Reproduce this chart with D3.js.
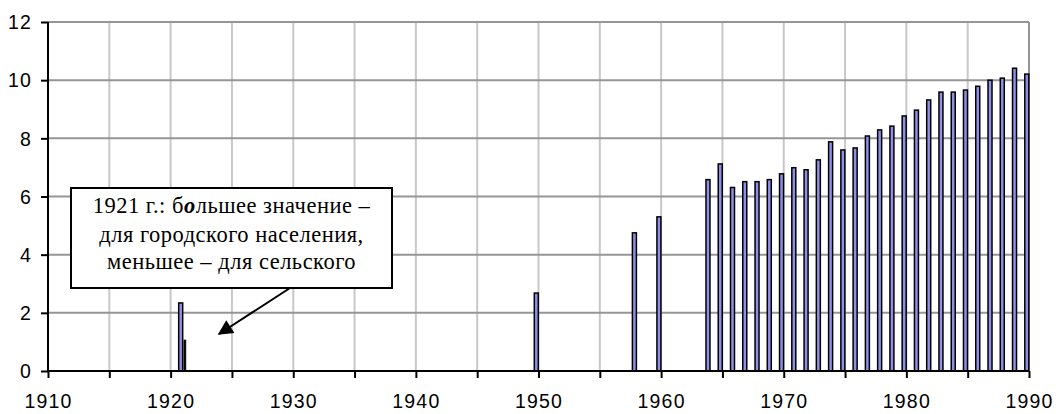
<!DOCTYPE html>
<html>
<head>
<meta charset="utf-8">
<script src="https://cdn.jsdelivr.net/npm/d3@7"></script>
<style>
  body { margin: 0; background: #fff; }
  svg { display: block; }
  .axis text { font-family: "Liberation Sans", Arial, sans-serif; font-size: 19.5px; letter-spacing: 1.2px; fill: #000; }
  .axis path, .axis line { stroke: #000; stroke-width: 2px; }
  .note { font-family: "Liberation Serif", "Times New Roman", serif; font-size: 22.5px; letter-spacing: 0.5px; fill: #000; }
</style>
</head>
<body>
<script>
// urban (or total) values by year
var years = [1921, 1950, 1958, 1960,
  1964, 1965, 1966, 1967, 1968, 1969, 1970, 1971, 1972, 1973, 1974, 1975, 1976, 1977,
  1978, 1979, 1980, 1981, 1982, 1983, 1984, 1985, 1986, 1987, 1988, 1989, 1990];
var values = [2.34, 2.68, 4.75, 5.30,
  6.58, 7.12, 6.31, 6.51, 6.51, 6.58, 6.78, 6.99, 6.92, 7.26, 7.88, 7.60, 7.67, 8.08,
  8.29, 8.42, 8.77, 8.97, 9.32, 9.59, 9.59, 9.66, 9.79, 10.00, 10.07, 10.41, 10.21];
// rural value, 1921 only
var ruralYears = [1921];
var ruralValues = [1.06];

var xTicks = [1910, 1915, 1920, 1925, 1930, 1935, 1940, 1945, 1950, 1955, 1960, 1965, 1970, 1975, 1980, 1985, 1990];
var xLabels = [1910, 1920, 1930, 1940, 1950, 1960, 1970, 1980, 1990];
var yTicks = [0, 2, 4, 6, 8, 10, 12];
var noteLines = ["для городского населения,", "меньшее – для сельского"];

var width = 1060,
    height = 414,
    margin = {top: 22, right: 31, bottom: 43, left: 48};

var svg = d3.select("body")
  .append("svg")
  .attr("width", width)
  .attr("height", height);

var x = d3.scaleLinear()
  .domain([1910, 1990])
  .range([margin.left, width - margin.right]);

var y = d3.scaleLinear()
  .domain([0, 12])
  .range([height - margin.bottom, margin.top]);

// gridlines
svg.append("g")
  .selectAll("line")
  .data(xTicks.slice(1, -1))
  .enter().append("line")
  .attr("x1", d => x(d)).attr("x2", d => x(d))
  .attr("y1", y(0)).attr("y2", y(12))
  .attr("stroke", "#c8c8c8")
  .attr("stroke-width", 2);

svg.append("g")
  .selectAll("line")
  .data(yTicks.slice(1))
  .enter().append("line")
  .attr("x1", x(1910)).attr("x2", x(1990))
  .attr("y1", d => y(d)).attr("y2", d => y(d))
  .attr("stroke", "#969696")
  .attr("stroke-width", 2);

svg.append("line")
  .attr("x1", x(1990)).attr("x2", x(1990))
  .attr("y1", y(0)).attr("y2", y(12))
  .attr("stroke", "#969696")
  .attr("stroke-width", 2);

// bars
svg.append("g")
  .selectAll("rect")
  .data(years)
  .enter().append("rect")
  .attr("x", d => x(d) - 4.2)
  .attr("width", 4)
  .attr("y", (d, i) => y(values[i]))
  .attr("height", (d, i) => y(0) - y(values[i]))
  .attr("fill", "#8f8fe8")
  .attr("stroke", "#000")
  .attr("stroke-width", 1.5);

svg.append("g")
  .selectAll("rect")
  .data(ruralYears)
  .enter().append("rect")
  .attr("x", d => x(d) + 1.2)
  .attr("width", 1.6)
  .attr("y", (d, i) => y(ruralValues[i]))
  .attr("height", (d, i) => y(0) - y(ruralValues[i]))
  .attr("fill", "#000")
  .attr("stroke", "#000")
  .attr("stroke-width", 1);

// axes
svg.append("g")
  .attr("class", "axis")
  .attr("transform", "translate(0," + y(0) + ")")
  .call(d3.axisBottom(x)
    .tickValues(xTicks)
    .tickSize(7)
    .tickPadding(16)
    .tickFormat(d => xLabels.indexOf(d) >= 0 ? d : ""))
  .call(g => g.select(".domain").attr("d", "M" + x(1910) + ",0H" + x(1990)));

svg.append("g")
  .attr("class", "axis")
  .attr("transform", "translate(" + x(1910) + ",0)")
  .call(d3.axisLeft(y)
    .tickValues(yTicks)
    .tickSize(7)
    .tickPadding(9)
    .tickFormat(d3.format("d")))
  .call(g => g.select(".domain").attr("d", "M0," + y(0) + "V" + y(12)))
  .call(g => g.selectAll("text").attr("dy", "0.35em"));

// callout
var defs = svg.append("defs");
defs.append("marker")
  .attr("id", "arrow")
  .attr("viewBox", "0 0 10 10")
  .attr("refX", 9).attr("refY", 5)
  .attr("markerUnits", "userSpaceOnUse")
  .attr("orient", "auto")
  .attr("markerWidth", 17).attr("markerHeight", 15)
  .append("path")
  .attr("d", "M0,0L10,5L0,10Z")
  .attr("fill", "#000");

svg.append("line")
  .attr("x1", 290).attr("y1", 288)
  .attr("x2", 219).attr("y2", 334)
  .attr("stroke", "#000")
  .attr("stroke-width", 2)
  .attr("marker-end", "url(#arrow)");

svg.append("rect")
  .attr("x", 71).attr("y", 188)
  .attr("width", 321).attr("height", 100)
  .attr("fill", "#fff")
  .attr("stroke", "#000")
  .attr("stroke-width", 2);

var first = svg.append("text")
  .attr("class", "note")
  .attr("x", 231.5).attr("y", 213)
  .attr("text-anchor", "middle");
first.append("tspan").text("1921 г.: б");
first.append("tspan").attr("font-weight", "bold").attr("font-style", "italic").text("о");
first.append("tspan").text("льшее значение –");

svg.selectAll(".noteline")
  .data(noteLines)
  .enter().append("text")
  .attr("class", "note")
  .attr("x", 231.5)
  .attr("y", (d, i) => 242 + i * 27)
  .attr("text-anchor", "middle")
  .text(d => d);
</script>
</body>
</html>
